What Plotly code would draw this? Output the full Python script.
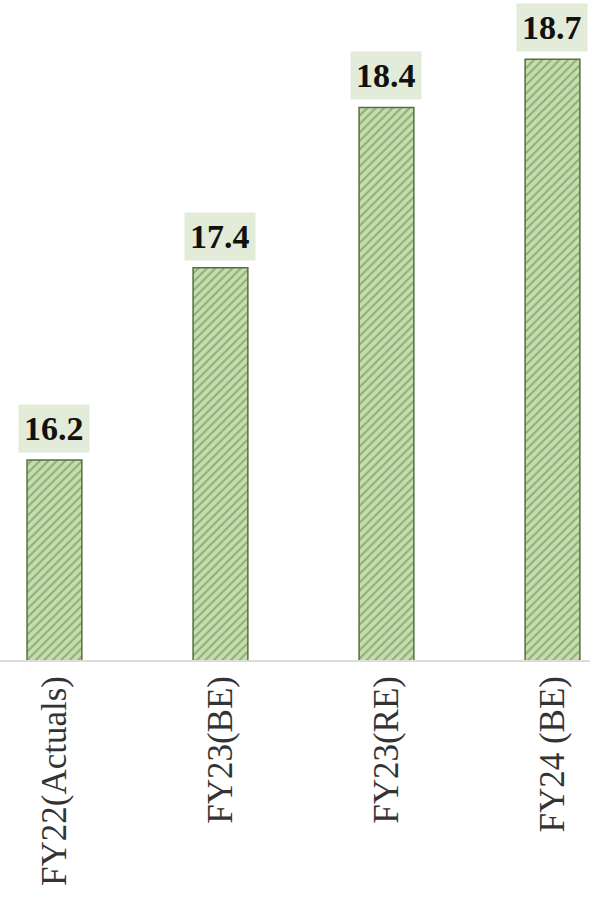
import plotly.graph_objects as go

categories = ["FY22(Actuals)", "FY23(BE)", "FY23(RE)", "FY24 (BE)"]
values = [16.2, 17.4, 18.4, 18.7]
value_labels = ["16.2", "17.4", "18.4", "18.7"]

fig = go.Figure()
fig.add_trace(go.Bar(
    x=categories,
    y=values,
    width=0.33,
    marker=dict(
        color="#c6ddae",
        line=dict(color="#55703f", width=1.5),
        pattern=dict(shape="/", fgcolor="#5b7d45", bgcolor="#c6ddae", size=6, solidity=0.35),
    ),
    hoverinfo="skip",
))

for c, v, t in zip(categories, values, value_labels):
    fig.add_annotation(
        x=c, y=v, text="<b>" + t + "</b>", showarrow=False,
        yanchor="bottom", yshift=7,
        font=dict(family="Liberation Serif", size=34, color="#111111"),
        bgcolor="#e2ecd8", borderpad=5,
    )

fig.update_layout(
    width=590, height=899,
    margin=dict(l=0, r=0, t=0, b=239),
    paper_bgcolor="white", plot_bgcolor="white",
    showlegend=False,
    xaxis=dict(
        range=[-0.328, 3.226],
        tickangle=-90,
        tickfont=dict(family="Liberation Serif", size=35, color="#333333"),
        showline=True, linecolor="#dcdcdc", linewidth=2,
        ticks="", ticklen=0,
        showgrid=False,
    ),
    yaxis=dict(
        range=[14.953, 19.07],
        visible=False,
        showgrid=False,
    ),
)

fig.write_html(
    "out.html",
    config={"displayModeBar": False, "staticPlot": True},
    post_script="document.body.style.margin='0';document.body.style.overflow='hidden';",
)
